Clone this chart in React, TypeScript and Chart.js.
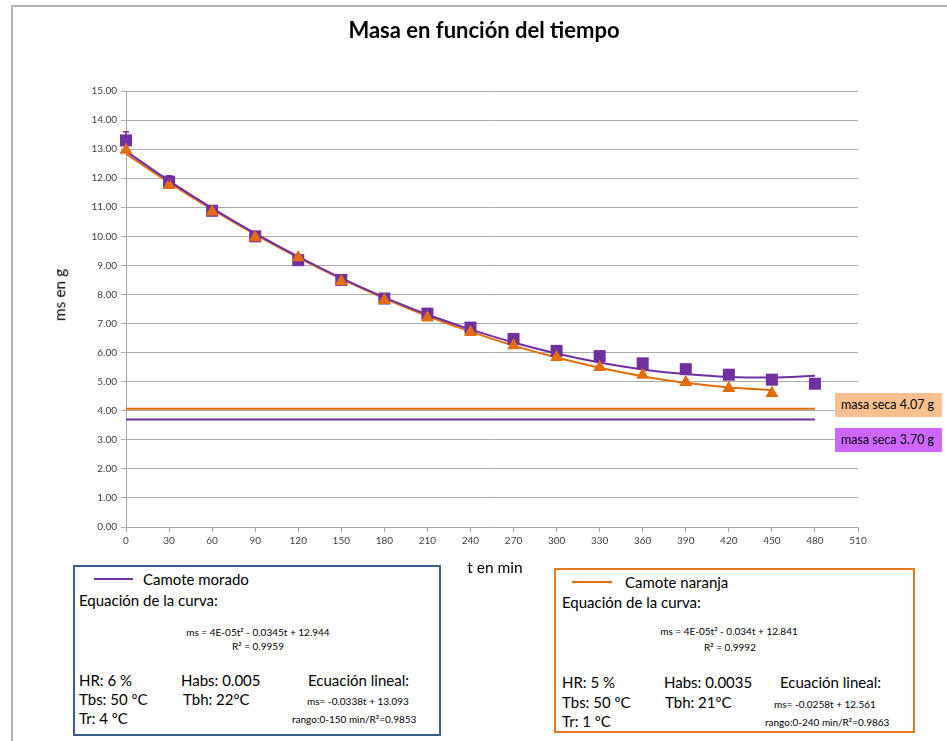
import React, { useEffect, useRef } from "react";
import { Chart, registerables } from "chart.js";

Chart.register(...registerables);

const tiempos = [0, 30, 60, 90, 120, 150, 180, 210, 240, 270, 300, 330, 360, 390, 420, 450, 480];
const masaMorado = [13.3, 11.88, 10.88, 10.0, 9.18, 8.5, 7.86, 7.34, 6.86, 6.47, 6.06, 5.88, 5.63, 5.43, 5.24, 5.07, 4.93];
const errorMorado = [0.3, 0.2, 0, 0, 0, 0, 0, 0, 0, 0, 0, 0, 0, 0, 0, 0, 0];
const tiemposNaranja = [0, 30, 60, 90, 120, 150, 180, 210, 240, 270, 300, 330, 360, 390, 420, 450];
const masaNaranja = [12.97, 11.76, 10.85, 9.96, 9.27, 8.45, 7.8, 7.2, 6.7, 6.24, 5.84, 5.5, 5.23, 4.98, 4.77, 4.6];
const tendenciaMorado = [12.93, 11.91, 10.97, 10.1, 9.3, 8.56, 7.9, 7.31, 6.8, 6.35, 5.97, 5.66, 5.42, 5.26, 5.16, 5.14, 5.2];
const tendenciaNaranja = [12.84, 11.85, 10.93, 10.07, 9.27, 8.54, 7.87, 7.26, 6.72, 6.24, 5.83, 5.48, 5.19, 4.96, 4.8, 4.71];
const masaSecaNaranja = 4.07;
const masaSecaMorado = 3.7;
const tiempoFinalLineas = [0, 480];

const MORADO = "#7030A0";
const NARANJA = "#E46C0A";
const FONT = "Lato, 'Open Sans', sans-serif";

const errorBarsPlugin = {
  id: "errorBars",
  afterDatasetsDraw(chart: any) {
    const ctx = chart.ctx;
    const xs = chart.scales.x;
    const ys = chart.scales.y;
    ctx.save();
    ctx.strokeStyle = MORADO;
    ctx.lineWidth = 1.5;
    tiempos.forEach((t, i) => {
      const e = errorMorado[i];
      if (!e) return;
      const px = xs.getPixelForValue(t);
      const y0 = ys.getPixelForValue(masaMorado[i]);
      const y1 = ys.getPixelForValue(masaMorado[i] + e);
      ctx.beginPath();
      ctx.moveTo(px, y0);
      ctx.lineTo(px, y1);
      ctx.moveTo(px - 3, y1);
      ctx.lineTo(px + 3, y1);
      ctx.stroke();
    });
    ctx.restore();
  },
};

function T(props: { x: number; y: number; size: number; children: any; center?: boolean; bold?: boolean; color?: string }) {
  const { x, y, size, children, center, bold, color } = props;
  return (
    <div
      style={{
        position: "absolute",
        left: x,
        top: y,
        transform: center ? "translate(-50%, -50%)" : "translateY(-50%)",
        fontSize: size,
        fontFamily: FONT,
        fontWeight: bold ? 700 : 400,
        color: color || "#000",
        whiteSpace: "nowrap",
        lineHeight: 1,
      }}
    >
      {children}
    </div>
  );
}

export default function App() {
  const ref = useRef<HTMLCanvasElement | null>(null);

  useEffect(() => {
    if (!ref.current) return;
    const chart = new Chart(ref.current, {
      type: "scatter",
      data: {
        datasets: [
          {
            label: "Camote naranja",
            data: tiemposNaranja.map((t, i) => ({ x: t, y: masaNaranja[i] })),
            pointStyle: "triangle",
            pointRadius: 7.5,
            backgroundColor: NARANJA,
            borderColor: NARANJA,
            borderWidth: 0,
            showLine: false,
            clip: false,
            order: 0,
          },
          {
            label: "Camote morado",
            data: tiempos.map((t, i) => ({ x: t, y: masaMorado[i] })),
            pointStyle: "rect",
            pointRadius: 8.5,
            backgroundColor: MORADO,
            borderColor: MORADO,
            borderWidth: 0,
            showLine: false,
            clip: false,
            order: 1,
          },
          {
            label: "Tendencia morado",
            data: tiempos.map((t, i) => ({ x: t, y: tendenciaMorado[i] })),
            showLine: true,
            pointRadius: 0,
            borderColor: MORADO,
            borderWidth: 2,
            cubicInterpolationMode: "monotone",
            order: 2,
          },
          {
            label: "Tendencia naranja",
            data: tiemposNaranja.map((t, i) => ({ x: t, y: tendenciaNaranja[i] })),
            showLine: true,
            pointRadius: 0,
            borderColor: NARANJA,
            borderWidth: 2,
            cubicInterpolationMode: "monotone",
            order: 3,
          },
          {
            label: "masa seca 4.07 g",
            data: tiempoFinalLineas.map((t) => ({ x: t, y: masaSecaNaranja })),
            showLine: true,
            pointRadius: 0,
            borderColor: NARANJA,
            borderWidth: 2,
            order: 4,
          },
          {
            label: "masa seca 3.70 g",
            data: tiempoFinalLineas.map((t) => ({ x: t, y: masaSecaMorado })),
            showLine: true,
            pointRadius: 0,
            borderColor: MORADO,
            borderWidth: 2,
            order: 5,
          },
        ],
      } as any,
      options: {
        animation: false,
        responsive: false,
        devicePixelRatio: 1,
        layout: { padding: { left: 0, right: 89, top: 91, bottom: 194 } },
        plugins: {
          legend: { display: false },
          tooltip: { enabled: false },
          title: { display: false },
        },
        scales: {
          x: {
            type: "linear",
            min: 0,
            max: 510,
            afterFit: (s: any) => {
              s.height = 20;
            },
            ticks: {
              stepSize: 30,
              color: "#404040",
              font: { family: FONT, size: 10 },
              padding: 3,
              maxRotation: 0,
              autoSkip: false,
            },
            grid: { drawOnChartArea: false, drawTicks: true, tickLength: 5, color: "#A6A6A6" },
            border: { color: "#A6A6A6", width: 1 },
          },
          y: {
            type: "linear",
            min: 0,
            max: 15,
            afterFit: (s: any) => {
              s.width = 126;
            },
            ticks: {
              stepSize: 1,
              color: "#404040",
              font: { family: FONT, size: 10 },
              padding: 4,
              callback: (v: any) => Number(v).toFixed(2),
            },
            grid: { color: "#ABABAB", lineWidth: 1, tickLength: 5 },
            border: { color: "#A6A6A6", width: 1 },
          },
        },
      } as any,
      plugins: [errorBarsPlugin],
    });
    return () => chart.destroy();
  }, []);

  const box = (left: number, top: number, w: number, h: number, color: string): React.CSSProperties => ({
    position: "absolute",
    left,
    top,
    width: w,
    height: h,
    border: `2px solid ${color}`,
    boxSizing: "border-box",
    background: "#fff",
  });

  return (
    <div style={{ position: "absolute", left: 0, top: 0, width: 947, height: 741, overflow: "hidden", background: "#fff" }}>
      <div style={{ position: "absolute", left: 11, top: 5, width: 960, height: 760, borderTop: "2px solid #B4B4B4", borderLeft: "2px solid #B4B4B4", boxSizing: "border-box" }} />
      <canvas ref={ref} width={947} height={741} style={{ position: "absolute", left: 0, top: 0, width: 947, height: 741 }} />
      <T x={484} y={30} size={22} bold center>Masa en función del tiempo</T>
      <T x={495} y={568} size={15.5} center>t en min</T>
      <div style={{ position: "absolute", left: 60, top: 295, transform: "translate(-50%, -50%) rotate(-90deg)", fontFamily: FONT, fontSize: 15.5, whiteSpace: "nowrap", lineHeight: 1 }}>ms en g</div>

      <div style={{ position: "absolute", left: 835, top: 393, width: 107, height: 24, background: "#FAC090" }} />
      <T x={841} y={405} size={12.5}>masa seca 4.07 g</T>
      <div style={{ position: "absolute", left: 835, top: 428, width: 107, height: 24, background: "#CC66FF" }} />
      <T x={841} y={440} size={12.5}>masa seca 3.70 g</T>

      <div style={box(73, 565, 368, 171, "#3A5F8C")} />
      <div style={{ position: "absolute", left: 94, top: 578, width: 39, height: 2, background: MORADO }} />
      <T x={143} y={579} size={15}>Camote morado</T>
      <T x={79} y={600} size={15}>Equación de la curva:</T>
      <T x={258} y={632} size={10} center>ms = 4E-05t² - 0.0345t + 12.944</T>
      <T x={258} y={646} size={10} center>R² = 0.9959</T>
      <T x={79} y={680} size={15}>HR: 6 %</T>
      <T x={181} y={680} size={15}>Habs: 0.005</T>
      <T x={308} y={680} size={15}>Ecuación lineal:</T>
      <T x={79} y={699} size={15}>Tbs: 50 ºC</T>
      <T x={183} y={699} size={15}>Tbh: 22ºC</T>
      <T x={307} y={701} size={10}>ms= -0.0338t + 13.093</T>
      <T x={79} y={718} size={15}>Tr: 4 ºC</T>
      <T x={292} y={719} size={10}>rango:0-150 min/R²=0.9853</T>

      <div style={box(554, 568, 361, 165, "#E87722")} />
      <div style={{ position: "absolute", left: 572, top: 581, width: 40, height: 2, background: NARANJA }} />
      <T x={625} y={582} size={15}>Camote naranja</T>
      <T x={562} y={602} size={15}>Equación de la curva:</T>
      <T x={729} y={631} size={10} center>ms = 4E-05t² - 0.034t + 12.841</T>
      <T x={730} y={647} size={10} center>R² = 0.9992</T>
      <T x={562} y={682} size={15}>HR: 5 %</T>
      <T x={664} y={682} size={15}>Habs: 0.0035</T>
      <T x={780} y={682} size={15}>Ecuación lineal:</T>
      <T x={562} y={702} size={15}>Tbs: 50 ºC</T>
      <T x={665} y={702} size={15}>Tbh: 21ºC</T>
      <T x={774} y={704} size={10}>ms= -0.0258t + 12.561</T>
      <T x={562} y={721} size={15}>Tr: 1 ºC</T>
      <T x={765} y={722} size={10}>rango:0-240 min/R²=0.9863</T>
    </div>
  );
}
